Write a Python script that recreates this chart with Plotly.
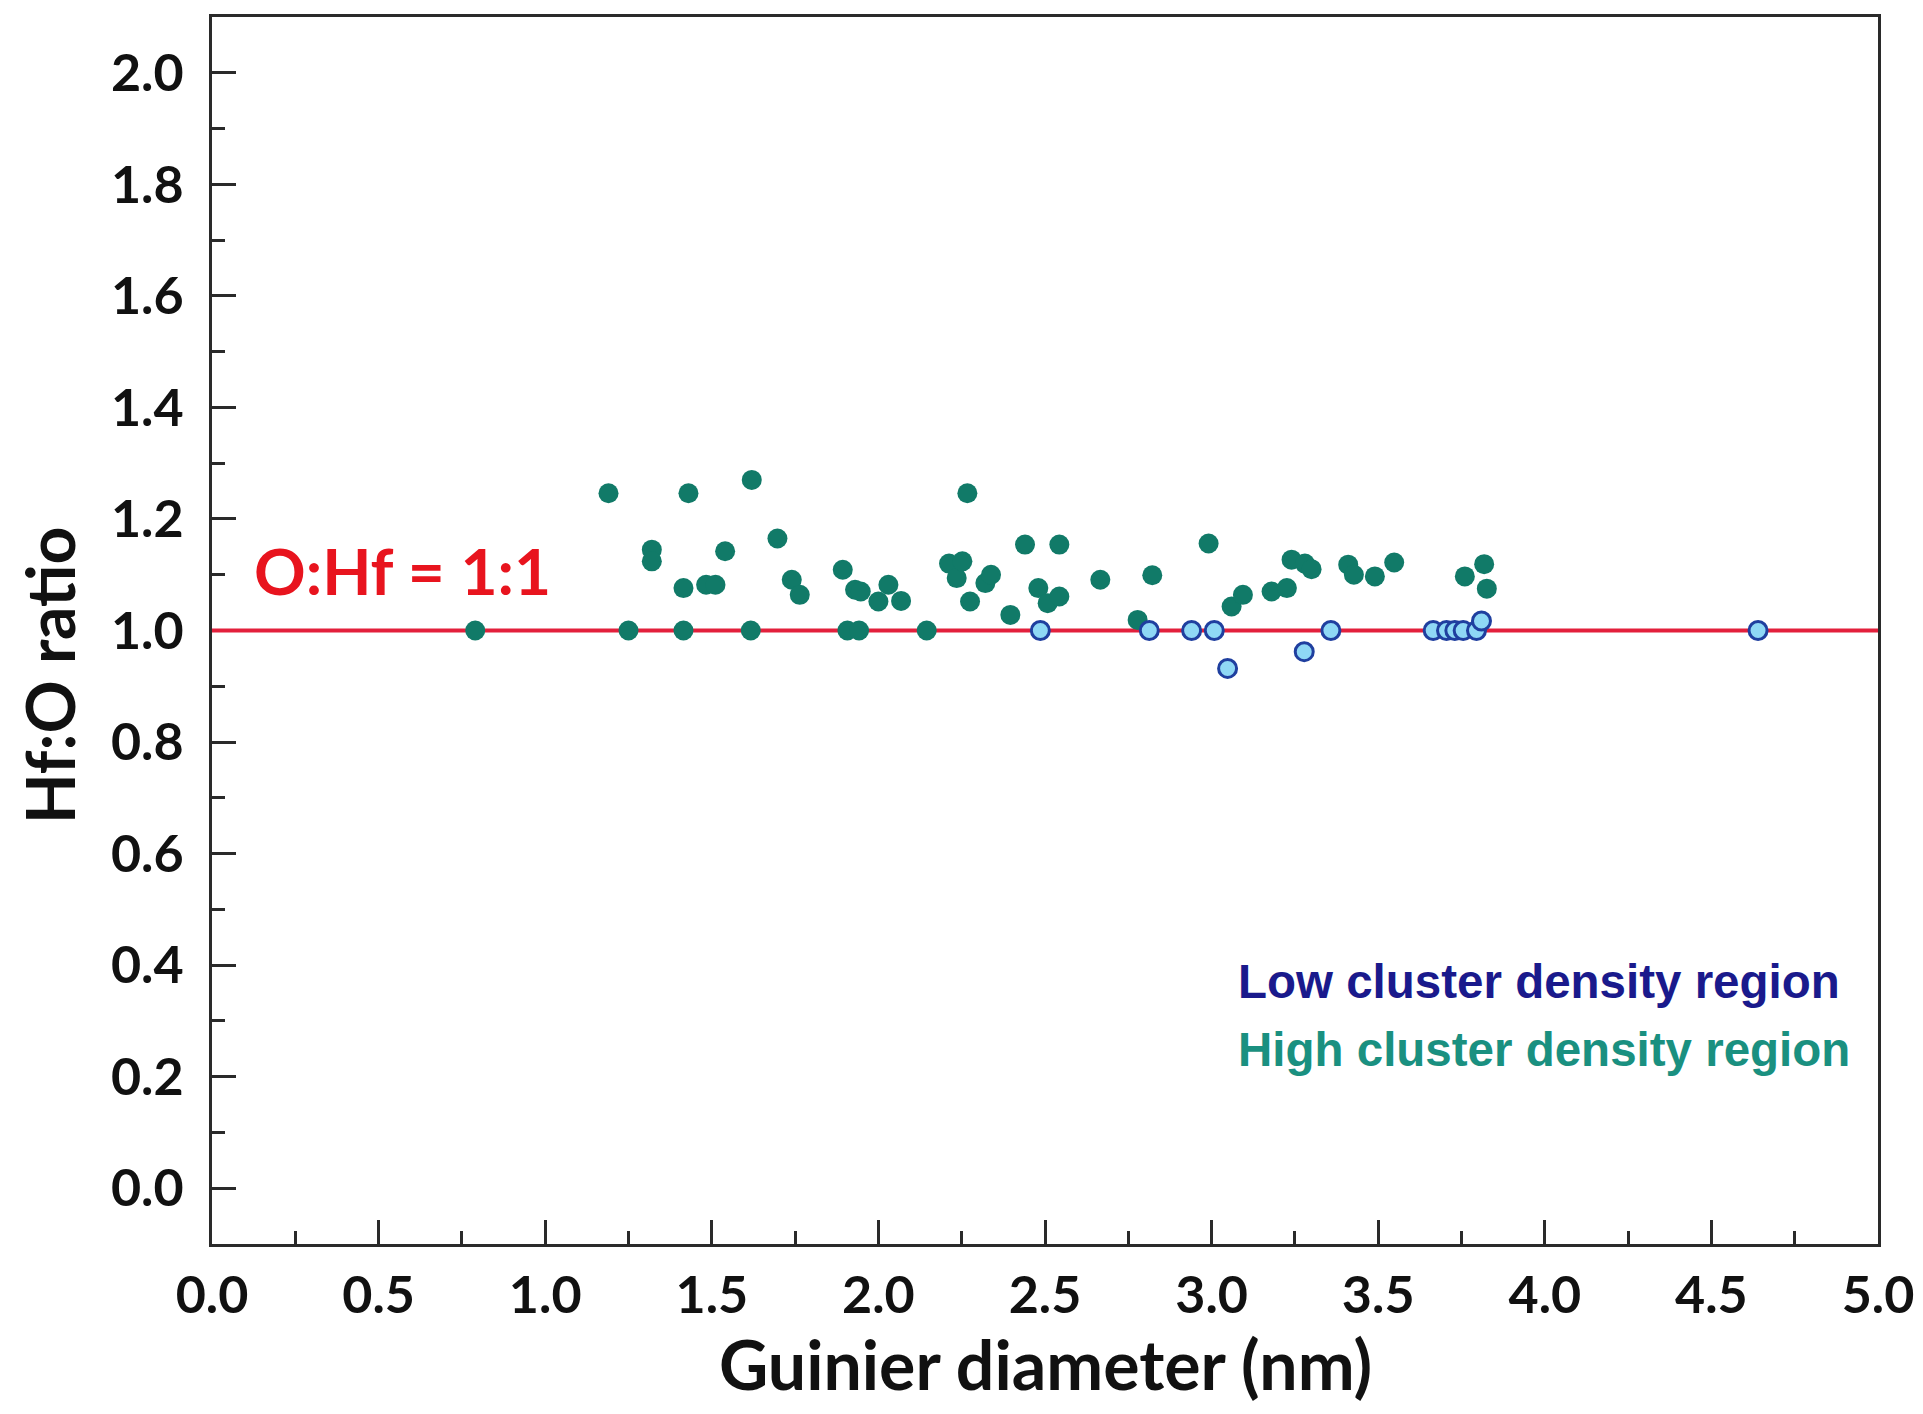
import plotly.graph_objects as go

# High cluster density region (filled teal)
high_x = [0.79, 1.19, 1.25, 1.32, 1.32, 1.43, 1.415, 1.415, 1.483, 1.511, 1.54, 1.62, 1.617,
          1.697, 1.74, 1.764, 1.893, 1.93, 1.947, 1.907, 1.942, 2.0, 2.03, 2.068, 2.145,
          2.212, 2.235, 2.252, 2.267, 2.275, 2.321, 2.338, 2.396, 2.44, 2.48, 2.508, 2.543,
          2.543, 2.666, 2.778, 2.822, 2.991, 3.06, 3.094, 3.18, 3.226, 3.24, 3.28, 3.30,
          3.41, 3.427, 3.49, 3.548, 3.76, 3.818, 3.826]
high_y = [1.0, 1.246, 1.0, 1.145, 1.124, 1.246, 1.076, 1.0, 1.082, 1.082, 1.142, 1.27, 1.0,
          1.165, 1.091, 1.064, 1.109, 1.073, 1.07, 1.0, 1.0, 1.052, 1.082, 1.053, 1.0,
          1.12, 1.094, 1.124, 1.246, 1.052, 1.085, 1.1, 1.028, 1.154, 1.076, 1.049, 1.061,
          1.154, 1.091, 1.019, 1.099, 1.156, 1.043, 1.064, 1.07, 1.076, 1.127, 1.12, 1.11,
          1.118, 1.1, 1.097, 1.122, 1.097, 1.119, 1.075]

# Low cluster density region (open light-blue circles)
low_x = [2.486, 2.813, 2.94, 3.008, 3.048, 3.278, 3.358, 3.665, 3.705, 3.73, 3.755, 3.795, 3.81, 4.64]
low_y = [1.0, 1.0, 1.0, 1.0, 0.932, 0.962, 1.0, 1.0, 1.0, 1.0, 1.0, 1.0, 1.017, 1.0]

# Reference line O:Hf = 1:1
ref_x = [0, 5]
ref_y = [1.0, 1.0]

x_ticks = [0.0, 0.5, 1.0, 1.5, 2.0, 2.5, 3.0, 3.5, 4.0, 4.5, 5.0]
y_ticks = [0.0, 0.2, 0.4, 0.6, 0.8, 1.0, 1.2, 1.4, 1.6, 1.8, 2.0]

TEAL = "#117a68"
FONT = "Lato"
AX = "#2a2a2a"

fig = go.Figure()
fig.add_trace(go.Scatter(x=ref_x, y=ref_y, mode="lines",
                         line=dict(color="#e3203c", width=4), showlegend=False))
fig.add_trace(go.Scatter(x=high_x, y=high_y, mode="markers", name="High cluster density region",
                         marker=dict(size=20, color=TEAL, line=dict(width=0)), showlegend=False))
fig.add_trace(go.Scatter(x=low_x, y=low_y, mode="markers", name="Low cluster density region",
                         marker=dict(size=18, color="#8fd8f5", line=dict(width=3, color="#1f3f9f")),
                         showlegend=False))

axis_common = dict(
    showline=True, linecolor=AX, linewidth=3, mirror=True,
    ticks="inside", tickcolor=AX, tickwidth=3,
    showgrid=False, zeroline=False, automargin=False, layer="below traces",
    tickfont=dict(family=FONT, size=52, color="#111111", weight="bold"),
)

fig.update_xaxes(
    **axis_common, range=[0, 5], tickvals=x_ticks,
    ticktext=[f"{v:.1f}" for v in x_ticks], ticklen=24, ticklabelstandoff=4,
    minor=dict(ticks="inside", dtick=0.25, ticklen=13, tickwidth=3, tickcolor=AX),
)
fig.update_yaxes(
    **axis_common, range=[-0.1, 2.1], tickvals=y_ticks,
    ticktext=[f"{v:.1f}" for v in y_ticks], ticklen=24, ticklabelstandoff=15,
    minor=dict(ticks="inside", dtick=0.1, ticklen=13, tickwidth=3, tickcolor=AX),
)

# axis titles
fig.add_annotation(x=0.5, y=-0.097, xref="paper", yref="paper", text="<b>Guinier diameter (nm)</b>",
                   showarrow=False, xanchor="center", yanchor="middle",
                   font=dict(family=FONT, size=68, color="#111111"))
fig.add_annotation(x=-0.0972, y=0.463, xref="paper", yref="paper", text="<b>Hf:O ratio</b>",
                   textangle=-90, showarrow=False, xanchor="center", yanchor="middle",
                   font=dict(family=FONT, size=66, color="#111111"))

fig.add_annotation(x=0.12, y=1.108, xref="x", yref="y", text="<b>O:Hf = 1:1</b>", showarrow=False,
                   xanchor="left", yanchor="middle",
                   font=dict(family=FONT, size=64, color="#e8141e"))
fig.add_annotation(x=3.072, y=0.37, xref="x", yref="y", text="<b>Low cluster density region</b>",
                   showarrow=False, xanchor="left", yanchor="middle",
                   font=dict(family="Liberation Sans", size=47.5, color="#1a1a8c"))
fig.add_annotation(x=3.072, y=0.248, xref="x", yref="y", text="<b>High cluster density region</b>",
                   showarrow=False, xanchor="left", yanchor="middle",
                   font=dict(family="Liberation Sans", size=47.5, color="#1a9080"))

# page body adds an 8px margin; size the figure so the page fits the 1923x1414 window
fig.update_layout(
    width=1907, height=1398,
    margin=dict(l=204, r=37, t=9, b=162, autoexpand=False),
    paper_bgcolor="white", plot_bgcolor="white",
    font=dict(family=FONT),
)

fig.write_html("out.html")
